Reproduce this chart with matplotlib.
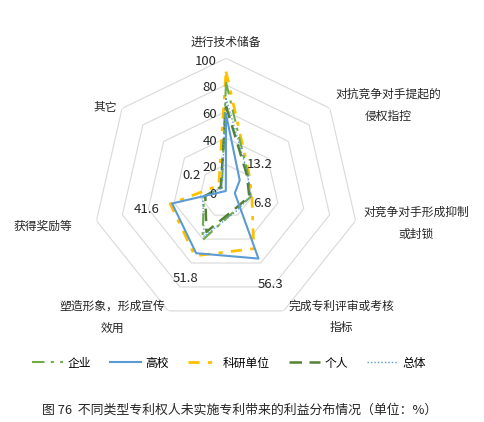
import numpy as np
import matplotlib
matplotlib.use("Agg")
import matplotlib.pyplot as plt

plt.rcParams['font.family'] = ['Noto Sans CJK SC', 'DejaVu Sans']

# categories (clockwise from top)
categories = ["进行技术储备", "对抗竞争对手提起的\n侵权指控", "对竞争对手形成抑制\n或封锁",
              "完成专利评审或考核\n指标", "塑造形象，形成宣传\n效用", "获得奖励等", "其它"]

# series values (%)
qiye = [82, 21, 19, 16, 41, 17, 4]
gaoxiao = [58, 13.2, 6.8, 56.3, 51.8, 41.6, 0.2]
keyan = [90, 22, 20, 48, 54, 43, 7]
geren = [64, 20, 18, 15, 34, 16, 5]
zongti = [70, 21, 19, 17, 38, 18, 4]

series_names = ["企业", "高校", "科研单位", "个人", "总体"]
rings = [20, 40, 60, 80, 100]
ring_labels = ["0", "20", "40", "60", "80", "100"]

fig = plt.figure(figsize=(4.85, 4.22), dpi=100)
ax = fig.add_axes([0.192, 0.232, 0.548, 0.630], projection='polar')
ax.set_theta_offset(np.pi / 2)
ax.set_theta_direction(-1)
ax.set_ylim(0, 100)
ax.grid(False)
ax.spines['polar'].set_visible(False)
ax.set_xticks([])
ax.set_yticks([])
ax.patch.set_alpha(0)

n = len(categories)
ang = np.linspace(0, 2 * np.pi, n, endpoint=False)
ang_c = np.append(ang, ang[0])

# heptagon grid
for r in rings:
    ax.plot(ang_c, [r] * (n + 1), color='#D9D9D9', lw=0.8, zorder=1)

def closed(v):
    return v + [v[0]]

l1, = ax.plot(ang_c, closed(qiye), color='#70AD47', lw=1.5, ls=(0, (6, 3, 1.5, 3)), zorder=3)
l2, = ax.plot(ang_c, closed(gaoxiao), color='#5B9BD5', lw=1.5, ls='-', zorder=4)
l3, = ax.plot(ang_c, closed(keyan), color='#FFC000', lw=2, ls=(0, (4, 3, 1.5, 3)), zorder=2)
l4, = ax.plot(ang_c, closed(geren), color='#548235', lw=1.8, ls=(0, (5, 3)), zorder=3)
l5, = ax.plot(ang_c, closed(zongti), color='#5B9BD5', lw=1.0, ls=(0, (1, 1.5)), zorder=3)

# radial labels
for i, lab in enumerate(ring_labels):
    ax.annotate(lab, xy=(0, i * 20), xytext=(-9, -3), textcoords='offset pixels',
                ha='right', va='center', fontsize=9.5, color='#262626')

# data labels for 高校
offs = [None, (20, 16), (28, -10), (12, -26), (-11, -25), (-25, -6), (-34, 16)]
for i, v in enumerate(gaoxiao):
    if offs[i] is None:
        continue
    ax.annotate(f"{v:g}", xy=(ang[i], v), xytext=offs[i], textcoords='offset pixels',
                ha='center', va='center', fontsize=9.5, color='#262626')

# category labels
cat_pos = [(226, 42), (388, 105), (416, 223), (341, 317), (112, 317), (43, 226), (105, 107)]
for lab, (px, py) in zip(categories, cat_pos):
    fig.text(px / 485, 1 - py / 422, lab, ha='center', va='center', fontsize=8.5,
             color='#262626', linespacing=1.9)

fig.legend([l1, l2, l3, l4, l5], series_names, loc='center', bbox_to_anchor=(0.472, 1 - 363 / 422),
           ncol=5, frameon=False, fontsize=8.5, handlelength=2.6, columnspacing=1.6, handletextpad=0.4)

fig.text(240 / 485, 1 - 410 / 422, "图 76  不同类型专利权人未实施专利带来的利益分布情况（单位：%）",
         ha='center', va='center', fontsize=9.3, color='#262626')

fig.savefig("out.png", dpi=100)
